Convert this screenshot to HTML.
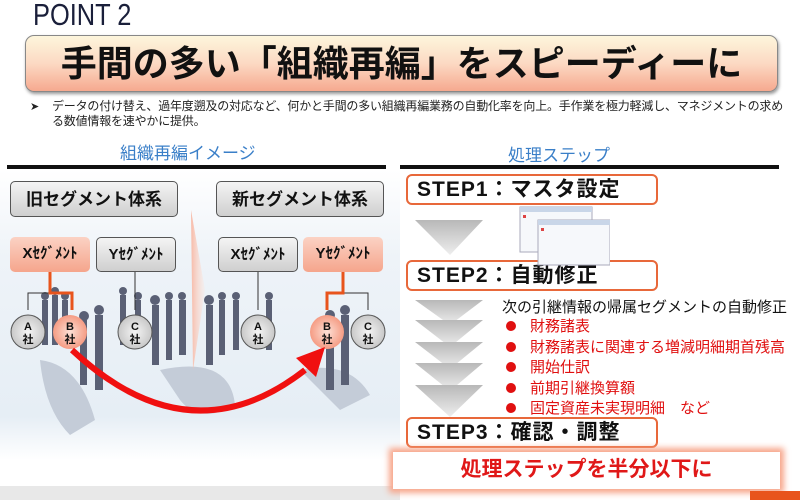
<!DOCTYPE html>
<html><head><meta charset="utf-8"><style>
*{margin:0;padding:0;box-sizing:border-box}
body{width:800px;height:500px;position:relative;background:#fff;overflow:hidden;font-family:"Liberation Sans","Noto Sans CJK JP",sans-serif}
.a{position:absolute}
.step{position:absolute;left:406px;width:252px;height:31px;border:2px solid #e8683a;border-radius:6px;background:#fff;font-weight:bold;font-size:21px;letter-spacing:1px;line-height:27px;padding-left:9px;color:#111;white-space:nowrap}
.seg{position:absolute;height:35px;border-radius:5px;font-weight:bold;font-size:15px;text-align:center;line-height:34px;color:#111}
.g{background:linear-gradient(#f4f4f4,#cfcfcf);border:1px solid #555}
.p{background:linear-gradient(#fbd2c4,#f5a58c);border:none}
.li{position:absolute;left:506px;font-size:15px;color:#e01010;height:20px;line-height:20px;white-space:nowrap}
.li b{display:inline-block;width:10px;height:10px;border-radius:50%;background:#e01010;margin-right:14px;vertical-align:0}
</style></head><body>
<div class="a" style="left:33px;top:-3px;font-size:31px;color:#1a1f3a;transform:scaleX(0.82);transform-origin:left top">POINT 2</div>
<div class="a" style="left:25px;top:35px;width:753px;height:57px;border:1px solid #888;border-radius:9px;background:linear-gradient(#fdf6dc,#fcd9c3 50%,#f6a98f);box-shadow:1px 2px 3px #999;text-align:center;font-weight:bold;font-size:36px;line-height:55px;color:#111">手間の多い「組織再編」をスピーディーに</div>
<div class="a" style="left:30px;top:100px;font-size:11px;color:#222">➤</div>
<div class="a" style="left:52px;top:99px;width:735px;font-size:12px;line-height:15px;color:#222;letter-spacing:-0.2px">データの付け替え、過年度遡及の対応など、何かと手間の多い組織再編業務の自動化率を向上。手作業を極力軽減し、マネジメントの求める数値情報を速やかに提供。</div>
<div class="a" style="left:120px;top:139px;font-size:17px;color:#3a7fc8">組織再編イメージ</div>
<div class="a" style="left:508px;top:141px;font-size:17px;color:#3a7fc8">処理ステップ</div>
<div class="a" style="left:7px;top:165px;width:379px;height:4px;background:#111"></div>
<div class="a" style="left:400px;top:165px;width:379px;height:4px;background:#111"></div>
<svg class="a" style="left:0;top:170px" width="400" height="330">
<defs><linearGradient id="bg" x1="0" y1="0" x2="0" y2="1"><stop offset="0" stop-color="#fff"/><stop offset=".3" stop-color="#eef3f8"/><stop offset=".85" stop-color="#e6eef5"/><stop offset="1" stop-color="#fff"/></linearGradient>
<radialGradient id="pb"><stop offset="0" stop-color="#fde0d6"/><stop offset="1" stop-color="#f59c84"/></radialGradient>
<radialGradient id="gb"><stop offset="0" stop-color="#f5f5f5"/><stop offset="1" stop-color="#c8c8c8"/></radialGradient>
<linearGradient id="wd" x1="0" x2="1"><stop offset="0" stop-color="#f7b9a6"/><stop offset="1" stop-color="#fde6de" stop-opacity=".3"/></linearGradient></defs>
<rect width="400" height="290" fill="url(#bg)"/>
<path d="M40 190 Q80 195 95 250 L70 265 Q45 240 40 190Z M160 200 Q230 185 235 235 Q200 255 180 230Z M300 200 Q350 190 370 225 L340 240Z" fill="#c4ccd8"/>
<g fill="#5a6075">
<rect x="42" y="130" width="6" height="45"/><rect x="52" y="125" width="6" height="50"/><rect x="62" y="130" width="6" height="45"/>
<rect x="80" y="150" width="7" height="65"/><rect x="95" y="145" width="8" height="75"/><rect x="120" y="125" width="6" height="50"/>
<rect x="135" y="130" width="6" height="45"/><rect x="152" y="135" width="7" height="60"/><rect x="166" y="130" width="6" height="60"/><rect x="179" y="130" width="7" height="55"/>
<rect x="206" y="135" width="7" height="60"/><rect x="219" y="130" width="6" height="55"/><rect x="233" y="130" width="6" height="50"/><rect x="266" y="130" width="6" height="50"/>
<rect x="326" y="150" width="8" height="70"/><rect x="341" y="145" width="8" height="70"/>
<circle cx="45" cy="126" r="4"/><circle cx="55" cy="121" r="4"/><circle cx="65" cy="126" r="4"/><circle cx="84" cy="146" r="5"/><circle cx="99" cy="140" r="5"/><circle cx="123" cy="121" r="4"/><circle cx="138" cy="126" r="4"/><circle cx="155" cy="130" r="5"/><circle cx="169" cy="126" r="4"/><circle cx="182" cy="126" r="4"/><circle cx="209" cy="130" r="5"/><circle cx="222" cy="126" r="4"/><circle cx="236" cy="126" r="4"/><circle cx="269" cy="126" r="4"/><circle cx="330" cy="145" r="5"/><circle cx="345" cy="140" r="5"/>
</g>
<rect x="0" y="316" width="400" height="14" fill="#e8e8e8"/>
<path d="M191 40 L205 120 L193 200 Z" fill="url(#wd)"/>
<g stroke="#333" stroke-width="1" fill="none">
<path d="M50 123 H28 V140"/><path d="M135 101 V140"/><path d="M258 101 V140"/><path d="M343 123 H368 V140"/>
</g>
<g stroke="#e8541c" stroke-width="3" fill="none"><path d="M50 101 V123 H72 V140"/><path d="M343 101 V123 H327 V140"/></g>
<g font-size="11" font-weight="bold" text-anchor="middle" fill="#111">
<circle cx="28" cy="162" r="17" fill="url(#gb)" stroke="#555"/><text x="28" y="160">A</text><text x="28" y="173">社</text>
<circle cx="70" cy="162" r="17" fill="url(#pb)"/><text x="70" y="160">B</text><text x="70" y="173">社</text>
<circle cx="135" cy="162" r="17" fill="url(#gb)" stroke="#555"/><text x="135" y="160">C</text><text x="135" y="173">社</text>
<circle cx="258" cy="162" r="17" fill="url(#gb)" stroke="#555"/><text x="258" y="160">A</text><text x="258" y="173">社</text>
<circle cx="327" cy="162" r="17" fill="url(#pb)"/><text x="327" y="160">B</text><text x="327" y="173">社</text>
<circle cx="368" cy="162" r="17" fill="url(#gb)" stroke="#555"/><text x="368" y="160">C</text><text x="368" y="173">社</text>
</g>
<path d="M72 180 Q190 290 305 200" stroke="#f01010" stroke-width="6" fill="none"/>
<path d="M296 188 L325 177 L316 207 Z" fill="#f01010"/>
</svg>
<div class="seg g" style="left:10px;top:181px;width:168px;height:36px;font-size:17px;line-height:35px">旧セグメント体系</div>
<div class="seg g" style="left:216px;top:181px;width:168px;height:36px;font-size:17px;line-height:35px">新セグメント体系</div>
<div class="seg p" style="left:10px;top:237px;width:80px">Xｾｸﾞﾒﾝﾄ</div>
<div class="seg g" style="left:96px;top:237px;width:80px">Yｾｸﾞﾒﾝﾄ</div>
<div class="seg g" style="left:218px;top:237px;width:80px">Xｾｸﾞﾒﾝﾄ</div>
<div class="seg p" style="left:303px;top:237px;width:80px">Yｾｸﾞﾒﾝﾄ</div>

<div class="step" style="top:174px">STEP1：マスタ設定</div>
<div class="step" style="top:260px">STEP2：自動修正</div>
<div class="step" style="top:417px">STEP3：確認・調整</div>
<svg class="a" style="left:410px;top:205px" width="200" height="215">
<defs><linearGradient id="tg" x1="0" y1="0" x2="0" y2="1"><stop offset="0" stop-color="#b8b8b8"/><stop offset="1" stop-color="#eee"/></linearGradient></defs>
<path d="M5 15 H73 L40 50 Z" fill="url(#tg)"/>
<path d="M5 95 H73 L40 120 Z" fill="url(#tg)"/>
<path d="M5 115 H73 L40 142 Z" fill="url(#tg)"/>
<path d="M5 137 H73 L40 164 Z" fill="url(#tg)"/>
<path d="M5 158 H73 L40 186 Z" fill="url(#tg)"/>
<path d="M5 180 H73 L40 212 Z" fill="url(#tg)"/>
<rect x="110" y="2" width="72" height="45" fill="#f6f8fb" stroke="#aab"/>
<rect x="110" y="2" width="72" height="5" fill="#c9d6e8"/>
<rect x="128" y="15" width="72" height="45" fill="#f6f8fb" stroke="#aab"/>
<rect x="128" y="15" width="72" height="5" fill="#c9d6e8"/>
<g fill="#d44"><rect x="131" y="23" width="3" height="3"/><rect x="113" y="10" width="3" height="3"/></g>
</svg>
<div class="a" style="left:502px;top:296px;font-size:15px;color:#111;white-space:nowrap">次の引継情報の帰属セグメントの自動修正</div>
<div class="li" style="top:317px"><b></b>財務諸表</div>
<div class="li" style="top:338px"><b></b>財務諸表に関連する増減明細期首残高</div>
<div class="li" style="top:358px"><b></b>開始仕訳</div>
<div class="li" style="top:379px"><b></b>前期引継換算額</div>
<div class="li" style="top:399px"><b></b>固定資産未実現明細　など</div>
<div class="a" style="left:393px;top:452px;width:387px;height:37px;background:#fff;box-shadow:0 0 6px 4px #f7a58a;text-align:center;font-size:21px;font-weight:bold;color:#e01818;line-height:36px">処理ステップを半分以下に</div>
<div class="a" style="left:750px;top:491px;width:50px;height:9px;background:#e8541c"></div>
</body></html>
